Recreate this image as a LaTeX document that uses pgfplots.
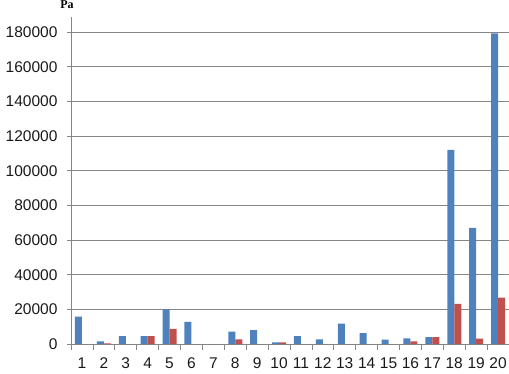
\documentclass[border=0pt]{standalone}
\usepackage{pgfplots}
\pgfplotsset{compat=1.18}
\usepackage{fontspec}
\setmainfont{Liberation Sans}
\newfontfamily\serifpa{Liberation Serif}
\definecolor{sblue}{HTML}{4F81BD}
\definecolor{sred}{HTML}{C0504D}
\definecolor{gridc}{HTML}{868686}
\begin{document}
\begin{tikzpicture}
\begin{axis}[
  at={(71pt,29pt)}, anchor=south west,
  scale only axis, width=438pt, height=327pt,
  xmin=0.5, xmax=20.5, ymin=0, ymax=188700,
  axis y line*=left, axis x line*=bottom,
  axis line style={gridc, line width=0.8pt},
  xtick={1,2,3,4,5,6,7,8,9,10,11,12,13,14,15,16,17,18,19,20},
  xticklabels={1,2,3,4,5,6,7,8,9,10,11,12,13,14,15,16,17,18,19,20},
  major x tick style={draw=none},
  minor xtick={0.5,1.5,2.5,3.5,4.5,5.5,6.5,7.5,8.5,9.5,10.5,11.5,12.5,13.5,14.5,15.5,16.5,17.5,18.5,19.5,20.5},
  minor x tick style={gridc, line width=0.8pt},
  ytick={0,20000,40000,60000,80000,100000,120000,140000,160000,180000},
  yticklabels={0,20000,40000,60000,80000,100000,120000,140000,160000,180000},
  ymajorgrids, grid style={gridc, line width=0.8pt},
  tick align=outside, major tick length=4pt, minor tick length=6pt,
  y tick style={gridc, line width=0.8pt},
  scaled y ticks=false,
  ticklabel style={font=\fontsize{15.5}{17}\selectfont, text=black!90},
  yticklabel style={xshift=-6pt},
  xticklabel style={yshift=-6pt},
  ybar, bar width=7pt,
  clip=false,
]
\addplot[fill=sblue, draw=none, bar shift=-3.5pt] coordinates {
(1,15800) (2,1500) (3,4600) (4,4600) (5,20000) (6,12700) (7,0) (8,7100) (9,8000) (10,1000)
(11,4600) (12,2700) (13,11700) (14,6300) (15,2500) (16,3200) (17,3900) (18,112000) (19,67000) (20,179300)};
\addplot[fill=sred, draw=none, bar shift=3.5pt] coordinates {
(1,0) (2,300) (3,0) (4,4600) (5,8700) (6,0) (7,0) (8,2700) (9,0) (10,1000)
(11,0) (12,0) (13,0) (14,0) (15,0) (16,1500) (17,3900) (18,23100) (19,3100) (20,26700)};
\end{axis}
\node[font=\serifpa\bfseries\fontsize{12}{14}\selectfont, anchor=north, inner sep=0.5pt] at (67pt,373pt) {Pa};
\pgfresetboundingbox
\path (0,0) rectangle (509pt,373pt);
\end{tikzpicture}
\end{document}
